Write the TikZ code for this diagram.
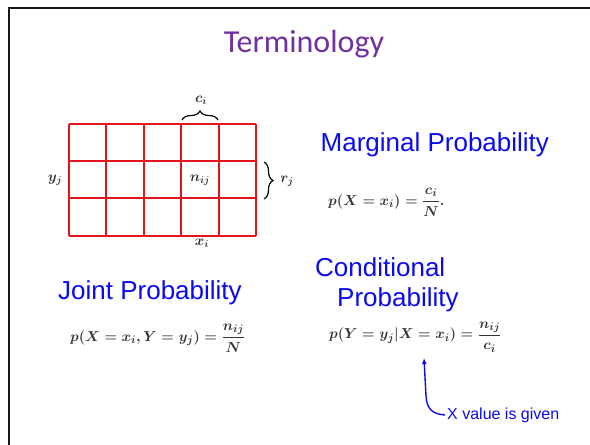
\documentclass[tikz,border=0pt]{standalone}
\usepackage{amsmath,amssymb}
\usepackage{fontspec}
\usepackage{xcolor}
\usepackage{tikz}
\usetikzlibrary{arrows.meta,positioning,decorations.pathreplacing}
\newfontfamily\arialfont{Liberation Sans}
\newfontfamily\calibrifont{Carlito}
\definecolor{titlepurple}{RGB}{112,48,160}
\definecolor{probblue}{RGB}{10,10,240}
\definecolor{gridred}{RGB}{228,20,28}
\tikzset{
  heading/.style={text=probblue, font=\arialfont\fontsize{26}{30}\selectfont, inner sep=0pt, anchor=west, align=left},
  formula/.style={text=black!80, font=\fontsize{15}{18}\selectfont\boldmath, inner sep=0pt, anchor=west},
  gridlabel/.style={text=black!80, font=\fontsize{14}{17}\selectfont\boldmath, inner sep=0pt},
  gridline/.style={draw=gridred, line width=2pt},
  curly/.style={decorate, decoration={brace, amplitude=9pt}, line width=1.2pt},
  givenarr/.style={-{Latex[length=6pt,width=5pt]}, draw=probblue, line width=1.4pt}
}

\begin{document}
\begin{tikzpicture}[x=1pt,y=-1pt]
\useasboundingbox (0,0) rectangle (590,445);
% slide frame
\draw[line width=2pt, black!90] (9,445) -- (9,8) -- (590,8);
\node[text=titlepurple, font=\calibrifont\fontsize{32}{36}\selectfont, inner sep=0pt] (title) at (304,44) {Terminology};
% the table
\foreach \c in {0,...,5}
  \draw[gridline] ({68.5+37.5*\c},124) -- ({68.5+37.5*\c},235.6);
\foreach \r in {0,...,3}
  \draw[gridline] (68.5,{124+37.2*\r}) -- (256,{124+37.2*\r});
\node[gridlabel] (ci) at (201,100) {$c_i$};
\node[gridlabel] (yj) at (55,180) {$y_j$};
\node[gridlabel] (nij) at (200,180) {$n_{ij}$};
\node[gridlabel] (rj) at (287,181) {$r_j$};
\node[gridlabel] (xi) at (202,243) {$x_i$};
\draw[curly] (182,120) -- (218,120);
\draw[curly] (264,162) -- (264,199);
% the three definitions
\node[heading] (marg) at (320.5,145) {Marginal Probability};
\node[formula] (margf) at (328,202) {$\displaystyle p(X=x_i)=\frac{c_i}{N}.$};
\node[heading] (joint) at (58,293) {Joint Probability};
\node[formula] (jointf) at (70,338) {$\displaystyle p(X=x_i,Y=y_j)=\frac{n_{ij}}{N}$};
\node[heading] (cond) at (315,285) {Conditional\\\hspace*{22pt}Probability};
\node[formula] (condf) at (329,337) {$\displaystyle p(Y=y_j|X=x_i)=\frac{n_{ij}}{c_i}$};
% note on the condition
\node[text=probblue, font=\arialfont\fontsize{16}{19}\selectfont, inner sep=2pt, anchor=west] (given) at (445,415) {X value is given};
\coordinate (xgiven) at (424,358);
\draw[givenarr] (given.west) .. controls (432,414) and (427,409) .. (426,396) -- (xgiven);
\end{tikzpicture}
\end{document}
